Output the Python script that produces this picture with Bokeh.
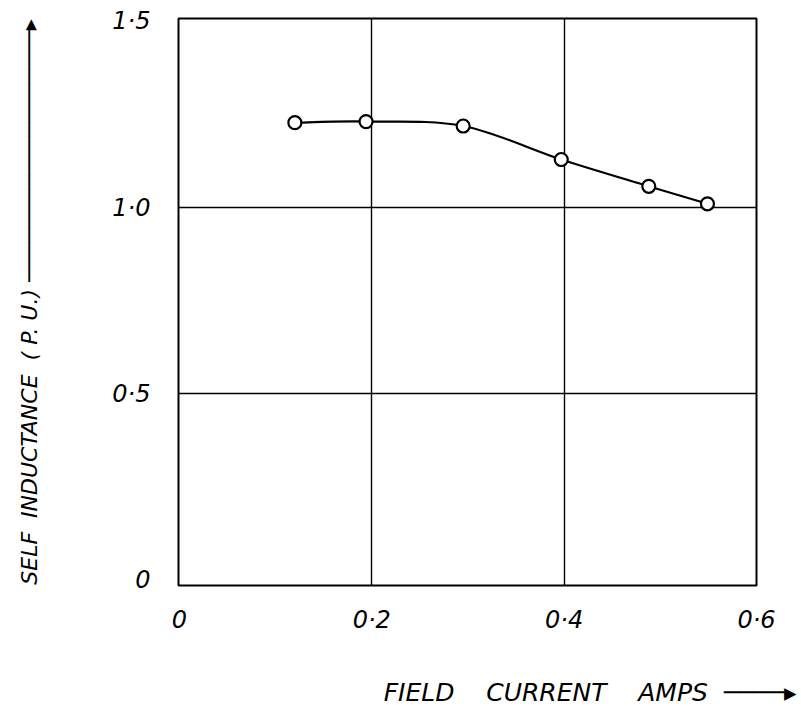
from bokeh.plotting import figure
from bokeh.models import Range1d, FixedTicker, Title
from bokeh.embed import file_html
from bokeh.resources import INLINE

# Measured self inductance of the field winding
field_current = [0.120, 0.194, 0.295, 0.397, 0.488, 0.549]
self_inductance = [1.228, 1.231, 1.219, 1.129, 1.057, 1.010]

x_ticks = [0, 0.2, 0.4, 0.6]
x_tick_labels = ["0", "0\u00b72", "0\u00b74", "0\u00b76"]
y_ticks = [0, 0.5, 1.0, 1.5]
y_tick_labels = ["0", "0\u00b75", "1\u00b70", "1\u00b75"]

NB = "\u00a0"
x_title = "FIELD" + NB * 4 + "CURRENT" + NB * 4 + "AMPS" + NB * 2 + "\u2500" * 4 + "\u25b8"
y_title = ("SELF" + NB * 2 + "INDUCTANCE" + NB * 2 + "(" + NB + "P." + NB + "U.)" + NB
           + "\u2500" * 19 + "\u25b8")

FONT = "DejaVu Sans"

p = figure(
    frame_width=578, frame_height=567,
    min_border_left=178, min_border_right=45,
    min_border_top=18, min_border_bottom=127,
    x_range=Range1d(-0.001, 0.6), y_range=Range1d(-0.016, 1.508),
    output_backend="svg", toolbar_location=None,
    background_fill_color="white", border_fill_color="white",
)

p.outline_line_color = "black"
p.outline_line_width = 2

for ax, ticks, labels in ((p.xaxis, x_ticks, x_tick_labels), (p.yaxis, y_ticks, y_tick_labels)):
    ax.ticker = FixedTicker(ticks=ticks)
    ax.major_label_overrides = {t: l for t, l in zip(ticks, labels)}
    ax.axis_line_color = None
    ax.major_tick_line_color = None
    ax.major_tick_out = 0
    ax.major_tick_in = 0
    ax.minor_tick_line_color = None
    ax.minor_tick_out = 0
    ax.major_label_text_font = FONT
    ax.major_label_text_font_style = "italic"
    ax.major_label_text_font_size = "24px"
    ax.major_label_text_color = "black"
p.xaxis.major_label_standoff = 20
p.yaxis.major_label_standoff = 28

# y title (with its upward arrow) as the axis label
p.yaxis.axis_label = y_title
p.yaxis.axis_label_standoff = 67
p.yaxis.axis_label_text_font = FONT
p.yaxis.axis_label_text_font_style = "italic"
p.yaxis.axis_label_text_font_size = "22px"
p.yaxis.axis_label_text_color = "black"

# spacer between the x tick labels and the x title
p.xaxis.axis_label = NB
p.xaxis.axis_label_text_font_size = "4px"
p.xaxis.axis_label_standoff = 26

# interior grid lines only; the outline closes the box
p.xgrid.ticker = FixedTicker(ticks=x_ticks[1:-1])
p.ygrid.ticker = FixedTicker(ticks=y_ticks[1:-1])
for g in (p.xgrid, p.ygrid):
    g.grid_line_color = "black"
    g.grid_line_width = 1.4
    g.grid_line_alpha = 1.0

# Smooth curve through the measured points (Catmull-Rom as cubic Bezier segments)
pts = list(zip(field_current, self_inductance))
x0s, y0s, x1s, y1s, cx0, cy0, cx1, cy1 = ([] for _ in range(8))
for i in range(len(pts) - 1):
    pa = pts[i - 1] if i > 0 else pts[i]
    pb, pc = pts[i], pts[i + 1]
    pd = pts[i + 2] if i + 2 < len(pts) else pts[i + 1]
    x0s.append(pb[0]); y0s.append(pb[1])
    x1s.append(pc[0]); y1s.append(pc[1])
    cx0.append(pb[0] + (pc[0] - pa[0]) / 6); cy0.append(pb[1] + (pc[1] - pa[1]) / 6)
    cx1.append(pc[0] - (pd[0] - pb[0]) / 6); cy1.append(pc[1] - (pd[1] - pb[1]) / 6)
p.bezier(x0=x0s, y0=y0s, x1=x1s, y1=y1s, cx0=cx0, cy0=cy0, cx1=cx1, cy1=cy1,
         line_color="black", line_width=2.2)

p.scatter(field_current, self_inductance, marker="circle", size=13,
          fill_color="white", line_color="black", line_width=2.2)

# x title with its arrow, right-aligned under the frame
p.add_layout(Title(text=x_title, align="right", offset=-40, standoff=10,
                   text_font=FONT, text_font_style="italic", text_font_size="25px",
                   text_color="black"), "below")

open("out.html", "w").write(file_html(p, INLINE))
